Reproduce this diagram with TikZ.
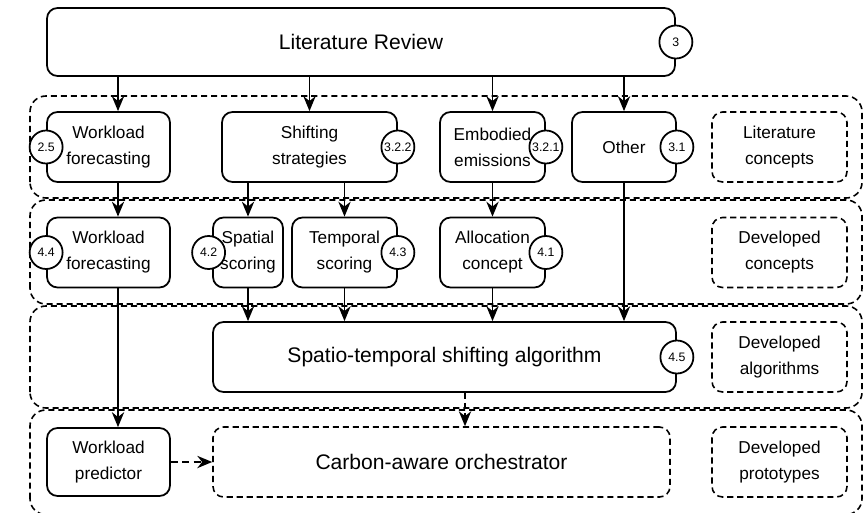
\documentclass[tikz,border=0pt]{standalone}
\usepackage{fontspec}
\setmainfont{Liberation Sans}
\usetikzlibrary{arrows.meta,positioning,calc}

\begin{document}
\begin{tikzpicture}[>={Stealth[length=8.5pt,width=7pt]},line width=1pt,
  box/.style={draw,rounded corners=6pt,align=center,inner sep=1pt,minimum height=1.4cm,font=\fontsize{9.8}{14.8}\selectfont},
  bigbox/.style={box,font=\fontsize{12}{14}\selectfont},
  dbox/.style={box,line width=0.9pt,dash pattern=on 3.5pt off 2.2pt},
  num/.style={draw,circle,fill=white,minimum size=0.66cm,inner sep=0pt,font=\fontsize{7}{8}\selectfont},
  layer/.style={draw,line width=0.9pt,dash pattern=on 3.5pt off 2.2pt,rounded corners=9pt}]
\useasboundingbox (0,0) rectangle (17.3,10.24);

% layers
\draw[layer] (0.60,6.28) rectangle (17.24,8.32);
\draw[layer] (0.60,4.16) rectangle (17.24,6.24);
\draw[layer] (0.60,2.08) rectangle (17.24,4.12);
\draw[layer] (0.60,-0.05) rectangle (17.24,2.04);

% literature
\node[bigbox,minimum width=12.56cm,minimum height=1.36cm] (lit) at (7.22,9.40) {Literature Review};
\node[box,minimum width=2.46cm] (wfa) at (2.17,7.30) {Workload\\forecasting};
\node[box,minimum width=3.50cm] (shift) at (6.19,7.30) {Shifting\\strategies};
\node[box,minimum width=2.10cm] (embod) at (9.85,7.30) {Embodied\\emissions};
\node[box,minimum width=2.08cm] (other) at (12.48,7.30) {Other};
\node[dbox,minimum width=2.70cm] (litcon) at (15.59,7.30) {Literature\\concepts};

% concepts
\node[box,minimum width=2.46cm] (wfb) at (2.17,5.19) {Workload\\forecasting};
\node[box,minimum width=1.40cm] (spatial) at (4.96,5.19) {Spatial\\scoring};
\node[box,minimum width=2.10cm] (temporal) at (6.89,5.19) {Temporal\\scoring};
\node[box,minimum width=2.10cm] (alloc) at (9.85,5.19) {Allocation\\concept};
\node[dbox,minimum width=2.70cm] (devcon) at (15.59,5.19) {Developed\\concepts};

% algorithms
\node[bigbox,minimum width=9.26cm] (sts) at (8.89,3.10) {Spatio-temporal shifting algorithm};
\node[dbox,minimum width=2.70cm] (devalg) at (15.59,3.10) {Developed\\algorithms};

% prototypes
\node[box,minimum width=2.46cm,minimum height=1.36cm] (pred) at (2.17,1.00) {Workload\\predictor};
\node[dbox,bigbox,line width=0.9pt,dash pattern=on 3.5pt off 2.2pt,minimum width=9.14cm] (orch) at (8.83,1.00) {Carbon-aware orchestrator};
\node[dbox,minimum width=2.70cm] (devproto) at (15.59,1.00) {Developed\\prototypes};

% section numbers
\node[num] (n3) at (lit.east) {3};
\node[num] (n25) at (wfa.west) {2.5};
\node[num] (n322) at (shift.east) {3.2.2};
\node[num] (n321) at (embod.east) {3.2.1};
\node[num] (n31) at (other.east) {3.1};
\node[num] (n44) at (wfb.west) {4.4};
\node[num] (n42) at ([xshift=-2pt]spatial.west) {4.2};
\node[num] (n43) at (temporal.east) {4.3};
\node[num] (n41) at (alloc.east) {4.1};
\node[num] (n45) at (sts.east) {4.5};

\coordinate (wfx) at (2.36,0);
\coordinate (orx) at (9.30,0);
\draw[->] (lit.south -| wfx) -- (wfa.north -| wfx);
\draw[->] (lit.south -| shift) -- (shift.north);
\draw[->] (lit.south -| embod) -- (embod.north);
\draw[->] (lit.south -| other) -- (other.north);
\draw[->] (wfa.south -| wfx) -- (wfb.north -| wfx);
\draw[->] (shift.south -| spatial) -- (spatial.north);
\draw[->] (shift.south -| temporal) -- (temporal.north);
\draw[->] (embod.south) -- (alloc.north);
\draw[->] (other.south) -- (sts.north -| other);
\draw[->] (spatial.south) -- (sts.north -| spatial);
\draw[->] (temporal.south) -- (sts.north -| temporal);
\draw[->] (alloc.south) -- (sts.north -| alloc);
\draw[->] (wfb.south -| wfx) -- (pred.north -| wfx);
\draw[->,dash pattern=on 3.5pt off 2.2pt] (sts.south -| orx) -- (orch.north -| orx);
\draw[->,dash pattern=on 4pt off 2.5pt] (pred.east) -- (orch.west);
\end{tikzpicture}
\end{document}
